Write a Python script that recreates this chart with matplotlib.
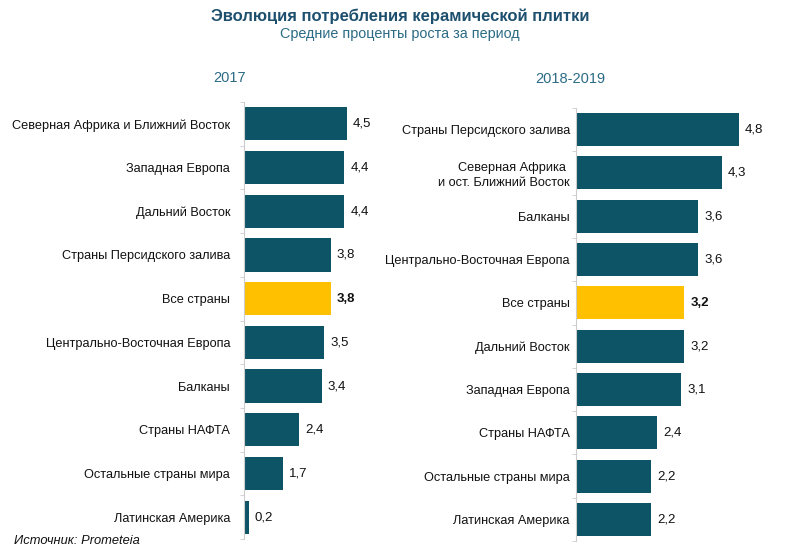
import matplotlib.pyplot as plt
from matplotlib.ticker import FixedLocator

plt.rcParams['font.family'] = ['Liberation Sans', 'DejaVu Sans']

# 2017
left_labels = [
    "Северная Африка и Ближний Восток",
    "Западная Европа",
    "Дальний Восток",
    "Страны Персидского залива",
    "Все страны",
    "Центрально-Восточная Европа",
    "Балканы",
    "Страны НАФТА",
    "Остальные страны мира",
    "Латинская Америка",
]
left_values = [4.5, 4.4, 4.4, 3.8, 3.8, 3.5, 3.4, 2.4, 1.7, 0.2]

# 2018-2019
right_labels = [
    "Страны Персидского залива",
    "Северная Африка \nи ост. Ближний Восток",
    "Балканы",
    "Центрально-Восточная Европа",
    "Все страны",
    "Дальний Восток",
    "Западная Европа",
    "Страны НАФТА",
    "Остальные страны мира",
    "Латинская Америка",
]
right_values = [4.8, 4.3, 3.6, 3.6, 3.2, 3.2, 3.1, 2.4, 2.2, 2.2]

highlight = "Все страны"
bar_color = "#0d5467"
hl_color = "#ffc000"
title_color = "#1d4f6e"
sub_color = "#2b6b85"

fig = plt.figure(figsize=(8, 5.55), dpi=100)

W, H = 800, 555


def panel(rect_px, labels, values, xmax, title, title_xy, pad):
    x0, top, x1, bottom = rect_px
    ax = fig.add_axes([x0 / W, 1 - bottom / H, (x1 - x0) / W, (bottom - top) / H])
    pos = range(len(labels))
    colors = [hl_color if l == highlight else bar_color for l in labels]
    ax.barh(pos, values, height=0.76, color=colors)
    ax.set_ylim(len(labels) - 0.5, -0.5)
    ax.set_xlim(0, xmax)
    ax.set_yticks(list(pos))
    ax.set_yticklabels(labels, fontsize=9.2, color="#111111", linespacing=1.3)
    ax.tick_params(axis="y", which="major", length=0, pad=pad)
    ax.yaxis.set_minor_locator(FixedLocator([i + 0.5 for i in range(-1, len(labels))]))
    ax.tick_params(axis="y", which="minor", length=3, color="#cccccc")
    ax.set_xticks([])
    for s in ["top", "right", "bottom"]:
        ax.spines[s].set_visible(False)
    ax.spines["left"].set_color("#cccccc")
    ax.spines["left"].set_linewidth(0.8)
    for i, (l, v) in enumerate(zip(labels, values)):
        ax.annotate(
            f"{v:.1f}".replace(".", ","),
            xy=(v, i), xytext=(4.5, 0), textcoords="offset points",
            va="center", ha="left", fontsize=9.5, color="#111111",
            fontweight="bold" if l == highlight else "normal",
        )
    fig.text(title_xy[0] / W, 1 - title_xy[1] / H, title, ha="center", va="center",
             fontsize=10.5, color=sub_color)
    return ax


panel((244, 102, 370, 539), left_labels, left_values, 126 / 22.8, "2017", (230, 78), 10)
panel((576, 108, 790, 541), right_labels, right_values, 214 / 33.9, "2018-2019", (570, 79), 4.5)

fig.text(0.5, 1 - 16 / H, "Эволюция потребления керамической плитки", ha="center",
         va="center", fontsize=12, fontweight="bold", color=title_color)
fig.text(0.5, 1 - 34 / H, "Средние проценты роста за период", ha="center",
         va="center", fontsize=10.4, color=sub_color)
fig.text(14 / W, 1 - 541 / H, "Источник: Prometeia", ha="left", va="center",
         fontsize=9.3, style="italic", color="#111111")

fig.savefig("out.png", dpi=100)
